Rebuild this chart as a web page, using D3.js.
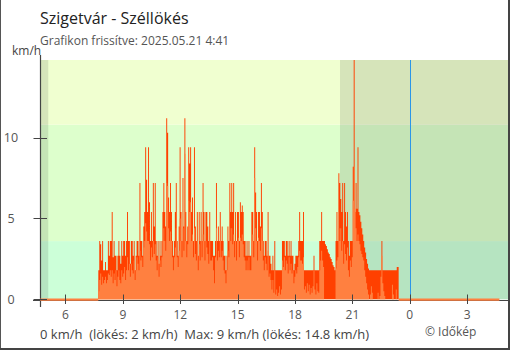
<!DOCTYPE html>
<html><head><meta charset="utf-8">
<script src="https://cdn.jsdelivr.net/npm/d3@7"></script>
<style>
html,body{margin:0;padding:0;background:#fff;}
svg{display:block;font-family:"Open Sans",sans-serif;}
</style>
</head><body>
<svg id="chart" width="510" height="350"></svg>
<script>
// ---------------- data ----------------
const titleText = "Szigetvár - Széllökés";
const subtitleText = "Grafikon frissítve: 2025.05.21 4:41";
const unitText = "km/h";
const footerText = "0 km/h  (lökés: 2 km/h)  Max: 9 km/h (lökés: 14.8 km/h)";
const creditText = "© Időkép";

const domainStart = new Date(2025, 4, 20, 4, 41);
const domainEnd = new Date(2025, 4, 21, 5, 8);
const dataStart = new Date(2025, 4, 20, 7, 43);
const stepMinutes = 3;
const zeroEnd = new Date(2025, 4, 21, 4, 41);
const sunrise = new Date(2025, 4, 20, 5, 6);
const sunset = new Date(2025, 4, 20, 20, 21);
const midnight = new Date(2025, 4, 21, 0, 0);

const yTicks = [0, 5, 10];
const bandLimits = [0, 3.6, 10.8, 14.8];   // 1 m/s and 3 m/s zones
const bandColors = ["#ccffd8", "#ddffcc", "#f0ffd0"];

// gusts (km/h), every 3 minutes from 7:43
const gust = [
1.8,3.6,3.4,2.4,3.6,1.8,1.8,2.3,1.8,1.8,3.6,2.7,3.6,
3.6,5.4,2.6,3.6,2.7,2.7,1.8,2.7,3.6,2.7,2.2,
3.6,2.7,3.6,3.6,2.7,3.6,5.4,3.6,3.6,2.2,
3.6,3.6,2.7,3.6,1.8,2.7,3.6,3.6,2.7,7.2,3.6,
3.6,2.7,4.5,5.4,9.4,7.4,5.4,9.4,6.0,3.6,
5.4,3.6,7.2,4.5,7.2,3.6,2.7,3.6,2.2,3.6,
2.7,3.6,5.4,7.2,5.4,4.5,11.2,10.3,6.3,5.4,7.2,
5.4,3.6,2.7,3.6,5.4,7.2,3.6,2.7,4.5,9.4,
5.4,3.6,7.5,4.5,11.2,5.4,3.6,4.5,9.4,8.4,9.4,
5.4,6.3,3.6,9.4,4.5,3.6,5.4,2.7,5.4,3.6,
5.4,3.6,7.2,5.4,3.6,5.4,5.4,4.5,3.6,5.4,3.6,
3.6,3.6,2.7,2.7,3.6,7.2,3.6,4.5,3.6,5.4,
3.6,4.5,3.6,2.7,2.7,1.8,2.7,4.5,3.6,7.2,5.4,
7.2,5.4,7.2,3.6,5.4,3.6,5.4,5.4,3.6,6.0,
5.4,5.8,5.4,3.6,3.6,2.7,3.6,2.7,3.6,2.7,2.7,
5.4,5.4,3.6,9.4,6.6,5.4,3.6,5.4,5.4,4.5,
7.2,5.4,3.6,2.7,3.6,3.6,2.7,5.4,2.7,2.7,2.2,
1.8,2.7,1.8,3.6,1.8,1.8,1.8,1.8,1.8,1.8,
1.8,3.6,3.6,3.6,2.7,3.6,3.6,2.7,3.6,2.7,3.6,
2.7,2.7,1.8,2.2,2.7,2.7,2.7,3.6,5.4,3.6,
3.6,3.6,5.4,1.8,1.8,1.8,1.8,1.8,1.8,1.8,1.8,
1.8,1.8,2.7,1.8,1.8,1.8,1.8,1.8,3.6,3.6,
5.4,3.6,3.6,
3.6,3.4,3.3,3.1,2.9,2.8,2.6,2.5,2.3,2.1,2.0,1.8,
3.6,5.4,3.6,7.8,7.2,6.2,5.4,7.2,3.6,7.2,
5.4,4.5,5.4,3.6,2.7,3.6,3.6,3.6,8.2,14.8,
5.4,7.2,5.6,9.4,5.4,
5.2,4.8,4.4,4.0,3.6,3.2,2.9,2.5,2.2,1.9,
1.8,1.8,1.8,1.8,1.8,1.8,1.8,1.8,1.8,1.8,1.8,1.8,1.8,3.6,
1.8,1.8,1.8,1.8,1.8,1.8,1.8,1.8,1.8,1.8,1.8,1.8,1.8,1.8,1.8,2.0,2.0
];

// mean wind speed (km/h), same timestamps
const speed = [
0.5,1.2,1.6,0.9,1.4,1.0,1.2,1.4,1.0,1.2,1.6,1.5,1.8,
1.4,1.8,1.0,1.6,1.2,1.8,0.8,1.4,1.8,1.2,1.0,
1.8,1.4,1.6,2.0,1.2,1.8,2.6,1.8,2.2,1.4,
2.2,1.8,1.6,2.4,1.2,1.8,2.6,2.2,1.8,3.0,2.4,
2.6,2.0,3.2,3.6,4.7,4.2,3.6,3.6,3.4,2.4,
3.2,2.6,3.6,2.8,3.4,2.4,1.8,2.6,1.4,2.4,
2.0,2.6,3.6,4.4,3.6,3.0,7.2,7.0,4.4,3.6,4.2,
3.6,2.6,1.8,2.6,3.2,4.4,2.6,2.0,3.0,5.0,
3.6,2.6,4.4,3.0,9.0,3.6,2.6,3.4,6.1,5.4,6.0,
3.6,4.0,2.6,4.4,2.8,2.4,3.6,1.8,3.4,2.4,
3.6,2.6,4.0,3.6,2.4,3.6,3.2,2.8,2.2,3.6,2.4,
2.4,2.6,1.8,1.0,2.6,4.4,2.4,3.0,2.6,3.6,
2.6,3.0,2.4,1.8,1.6,1.0,1.8,3.0,2.6,4.4,3.6,
4.4,3.4,4.0,2.6,3.6,2.4,3.6,3.8,2.6,3.8,
3.6,4.0,3.4,2.6,2.4,1.8,2.4,1.8,2.6,1.8,1.8,
3.6,4.0,2.6,7.5,4.4,3.6,2.4,3.8,3.6,3.0,
4.4,3.6,2.4,1.8,2.6,2.2,1.8,3.0,1.4,1.6,1.2,
0.6,1.2,0.4,1.8,0.3,0.6,0.2,0.4,0.8,0.3,
0.6,2.4,2.0,2.6,1.8,2.4,2.2,1.6,2.6,1.8,2.2,
1.6,1.8,1.0,1.4,1.8,1.6,2.0,2.6,3.0,2.4,
2.4,2.2,2.6,0.6,0.8,0.4,1.0,0.5,0.9,0.3,0.7,
0.4,0.8,1.8,0.6,0.3,1.0,0.5,0.4,1.8,2.4,
3.0,2.4,2.0,
0,0,0,0,0,0,0,0,0,0,0,0,
1.9,2.4,2.6,4.4,3.6,4.4,3.0,3.6,2.2,3.4,
2.8,2.4,3.2,1.8,1.4,2.4,2.0,2.6,6.1,8.2,
5.6,4.4,3.6,4.0,3.6,
3.4,3.0,2.8,2.6,2.4,1.8,1.4,1.0,0.6,0.3,
0,0.3,0.8,0.4,0,0,0,0,0,0.4,0,0.2,1.4,2.7,1.0,0.5,0.2,0,0,0,0,0,0,0,0.9,0.3,0,0,0.6,0,0
];

// ---------------- chart ----------------
const svg = d3.select("#chart");
const L = 40.3, R = 508, T = 60, B = 299.3;

const x = d3.scaleTime().domain([domainStart, domainEnd]).range([L, R]);
const y = d3.scaleLinear().domain([0, 14.8]).range([B, T]);

const timeAt = i => d3.timeMinute.offset(dataStart, i * stepMinutes);
const rows = gust.map((g, i) => ({t: timeAt(i), g, s: speed[i]}));
const dataEnd = timeAt(gust.length);
rows.push({t: dataEnd, g: gust[gust.length - 1], s: speed[speed.length - 1]});

// border
svg.append("line").attr("x1", 0.5).attr("x2", 0.5).attr("y1", 0).attr("y2", 350).attr("stroke", "#555").attr("stroke-width", 1);
svg.append("line").attr("x1", 509).attr("x2", 509).attr("y1", 0).attr("y2", 350).attr("stroke", "#444").attr("stroke-width", 2);
svg.append("line").attr("x1", 0).attr("x2", 510).attr("y1", 349).attr("y2", 349).attr("stroke", "#444").attr("stroke-width", 2);

// bands
svg.append("g").selectAll("rect").data(bandColors).join("rect")
  .attr("x", L).attr("width", R - L)
  .attr("y", (d, i) => y(bandLimits[i + 1]))
  .attr("height", (d, i) => y(bandLimits[i]) - y(bandLimits[i + 1]))
  .attr("fill", d => d);

// night shading
const nights = [[domainStart, sunrise], [sunset, domainEnd]];
svg.append("g").selectAll("rect").data(nights).join("rect")
  .attr("x", d => x(d[0])).attr("width", d => x(d[1]) - x(d[0]))
  .attr("y", T).attr("height", B - T)
  .attr("fill", "#000").attr("fill-opacity", 0.105);

// gust area
svg.append("path").datum(rows)
  .attr("d", d3.area().curve(d3.curveStepAfter).x(d => x(d.t)).y0(y(0)).y1(d => y(d.g)))
  .attr("fill", "#ff4000");
// speed area
svg.append("path").datum(rows)
  .attr("d", d3.area().curve(d3.curveStepAfter).x(d => x(d.t)).y0(y(0)).y1(d => y(d.s)))
  .attr("fill", "#ff8040");

// midnight line
const mx = Math.round(x(midnight)) + 0.5;
svg.append("line").attr("x1", mx).attr("x2", mx).attr("y1", T).attr("y2", B)
  .attr("stroke", "#2b95e8").attr("stroke-width", 1);

// axes
const axisCol = "#444";
svg.append("line").attr("x1", 40.5).attr("x2", 40.5).attr("y1", 55).attr("y2", 307)
  .attr("stroke", axisCol).attr("stroke-width", 1.2);
svg.append("line").attr("x1", 33).attr("x2", R).attr("y1", 300.5).attr("y2", 300.5)
  .attr("stroke", axisCol).attr("stroke-width", 1.2);

// zero speed lines outside data
const zeroSegs = [[domainStart, dataStart], [dataEnd, zeroEnd]];
svg.append("g").selectAll("line").data(zeroSegs).join("line")
  .attr("x1", d => x(d[0])).attr("x2", d => x(d[1]))
  .attr("y1", y(0) + 0.3).attr("y2", y(0) + 0.3)
  .attr("stroke", "#ff8040").attr("stroke-width", 2.4);

// y ticks
const yg = svg.append("g");
yg.selectAll("line").data(yTicks).join("line")
  .attr("x1", 33.5).attr("x2", 47).attr("y1", d => Math.round(y(d)) + 0.5).attr("y2", d => Math.round(y(d)) + 0.5)
  .attr("stroke", axisCol).attr("stroke-width", 1);
yg.selectAll("text").data(yTicks).join("text")
  .attr("x", 11).attr("y", d => y(d) + 4.5).attr("text-anchor", "middle")
  .attr("font-size", 12.5).attr("fill", "#555").text(d => d);

// x ticks
const xTicks = x.ticks(d3.timeHour.every(3));
const xg = svg.append("g");
xg.selectAll("line").data(xTicks).join("line")
  .attr("x1", d => Math.round(x(d)) + 0.5).attr("x2", d => Math.round(x(d)) + 0.5)
  .attr("y1", 294.5).attr("y2", 304)
  .attr("stroke", axisCol).attr("stroke-width", 1);
xg.selectAll("text").data(xTicks).join("text")
  .attr("x", d => x(d)).attr("y", 318.5).attr("text-anchor", "middle")
  .attr("font-size", 12).attr("fill", "#555").text(d3.timeFormat("%-H"));

// texts
svg.append("text").attr("x", 40).attr("y", 24).attr("font-size", 16).attr("fill", "#222").text(titleText);
svg.append("text").attr("x", 40).attr("y", 44.5).attr("font-size", 12).attr("fill", "#555").text(subtitleText);
svg.append("text").attr("x", 12).attr("y", 55).attr("font-size", 12).attr("fill", "#444").text(unitText);
svg.append("text").attr("x", 40).attr("y", 339).attr("font-size", 13).attr("fill", "#444")
  .attr("xml:space", "preserve").style("white-space", "pre").text(footerText);
svg.append("text").attr("x", 425).attr("y", 336).attr("font-size", 12).attr("fill", "#555").text(creditText);
</script>
</body></html>
